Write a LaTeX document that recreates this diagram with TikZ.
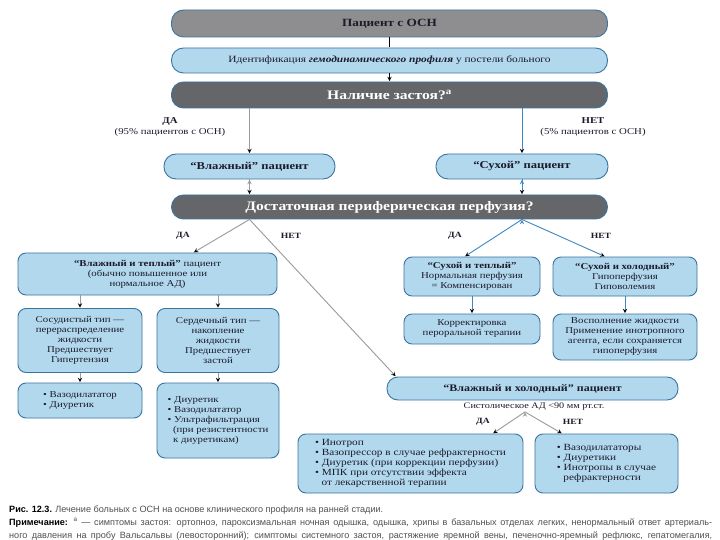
\documentclass[tikz,border=0pt]{standalone}
\usepackage{fontspec}
\setmainfont{Liberation Serif}[FakeStretch=1.2]
\newfontfamily\capfont{Liberation Sans}
\usetikzlibrary{arrows,calc,positioning}
\definecolor{boxline}{HTML}{3A74A0}
\definecolor{boxfill}{HTML}{B2D8EE}
\definecolor{grayfill}{HTML}{8E8E90}
\definecolor{darkfill}{HTML}{656669}
\definecolor{grayarrow}{HTML}{9A9A9A}
\definecolor{bluearrow}{HTML}{3D87C2}
\definecolor{txt}{HTML}{1B1B2A}
\definecolor{captxt}{HTML}{505050}
\tikzset{box/.style={draw=boxline, fill=boxfill, line width=0.9pt, rounded corners=8pt, align=center, inner sep=1pt, text=txt, font=\fontsize{9}{10}\selectfont}}
\tikzstyle{bar}=[box, rounded corners=12pt, minimum width=436pt]
\tikzstyle{pill}=[box, rounded corners=12pt, minimum height=25pt, font=\fontsize{10.5}{12}\selectfont\bfseries]
\tikzstyle{ga}=[->, draw=grayarrow, line width=0.9pt]
\tikzstyle{ba}=[->, draw=bluearrow, line width=0.9pt]
\tikzstyle{yn}=[font=\fontsize{8}{9}\selectfont\bfseries, text=txt]
\tikzstyle{captext}=[anchor=base west, inner sep=0pt, text=captxt, font=\capfont\fontsize{9.1}{13}\selectfont]

\begin{document}
\begin{tikzpicture}[x=1pt, y=-1pt, >=stealth, shorten >=0.5pt]
\useasboundingbox[fill=white] (0,0) rectangle (720,540);
% top column
\node[bar, fill=grayfill, minimum height=27pt, font=\fontsize{11}{13}\selectfont\bfseries] (P0) at (389.5,23.5) {Пациент с ОСН};
\node[bar, minimum height=25pt, font=\fontsize{9.5}{11}\selectfont] (P1) at (389.5,60.5) {Идентификация \textbf{\textit{гемодинамического профиля}} у постели больного};
\node[bar, fill=darkfill, minimum height=26pt, text=white, font=\fontsize{13}{15}\selectfont\bfseries] (P2) at (389.5,95) {Наличие застоя?\textsuperscript{a}};
\node[pill, minimum width=171pt] (W) at (249.5,166.5) {“Влажный” пациент};
\node[pill, minimum width=172pt] (D) at (522,166.5) {“Сухой” пациент};
\node[bar, fill=darkfill, minimum height=24pt, text=white, font=\fontsize{13}{15}\selectfont\bfseries] (P3) at (389.5,207) {Достаточная периферическая перфузия?};
\node[align=center, text=txt, font=\fontsize{9}{10.5}\selectfont] (yes0) at (170,127) {\textbf{ДА}\\(95\% пациентов с ОСН)};
\node[align=center, text=txt, font=\fontsize{9}{10.5}\selectfont] (no0) at (593,127) {\textbf{НЕТ}\\(5\% пациентов с ОСН)};
% wet branch
\node[box, minimum width=259pt, minimum height=42pt] (WW) at (147.5,274) {\textbf{“Влажный и теплый”} пациент\\(обычно повышенное или\\нормальное АД)};
\node[box, minimum width=124pt, minimum height=64pt] (V1) at (80,340.5) {Сосудистый тип —\\перераспределение\\жидкости\\Предшествует\\Гипертензия};
\node[box, minimum width=122pt, minimum height=64pt] (V2) at (218,340.5) {Сердечный тип —\\накопление\\жидкости\\Предшествует\\застой};
\node[box, minimum width=124pt, minimum height=35pt, align=left] (T1) at (80,400.5) {• Вазодилататор\\• Диуретик};
\node[box, minimum width=122pt, minimum height=75pt, align=left] (T2) at (218,420.5) {• Диуретик\\• Вазодилататор\\• Ультрафильтрация\\\hspace*{0.6em}(при резистентности\\\hspace*{0.6em}к диуретикам)};
% dry branch
\node[box, minimum width=136pt, minimum height=39pt] (DW) at (472,276.5) {\textbf{“Сухой и теплый”}\\Нормальная перфузия\\= Компенсирован};
\node[box, minimum width=144pt, minimum height=39pt] (DC) at (625,276.5) {\textbf{“Сухой и холодный”}\\Гипоперфузия\\Гиповолемия};
\node[box, minimum width=136pt, minimum height=30pt] (K1) at (472,329) {Корректировка\\пероральной терапии};
\node[box, minimum width=144pt, minimum height=46pt] (K2) at (625,337) {Восполнение жидкости\\Применение инотропного\\агента, если сохраняется\\гипоперфузия};
% wet and cold
\node[box, minimum width=291pt, minimum height=23pt, rounded corners=11pt, font=\fontsize{10}{12}\selectfont\bfseries] (WC) at (532.5,388.5) {“Влажный и холодный” пациент};
\node[text=txt, inner sep=1pt, font=\fontsize{8.5}{10}\selectfont] (SY) at (534,407) {Систолическое АД <90 мм рт.ст.};
\node[box, minimum width=225pt, minimum height=59pt, align=left, font=\fontsize{9.4}{10}\selectfont] (L1) at (410.5,463.5) {• Инотроп\\• Вазопрессор в случае рефрактерности\\• Диуретик (при коррекции перфузии)\\• МПК при отсутствии эффекта\\\hspace*{0.7em}от лекарственной терапии};
\node[box, minimum width=143pt, minimum height=59pt, align=left, font=\fontsize{9.4}{10}\selectfont] (L2) at (606.5,463.5) {• Вазодилататоры\\• Диуретики\\• Инотропы в случае\\\hspace*{0.7em}рефрактерности};
\node[yn] (yes1) at (183,236) {ДА};
\node[yn] (no1) at (291,236) {НЕТ};
\node[yn] (yes2) at (455,236) {ДА};
\node[yn] (no2) at (601,236) {НЕТ};
\node[yn] (yes3) at (483,422) {ДА};
\node[yn] (no3) at (573,422) {НЕТ};
% connectors
\draw[line width=0.9pt] (P0) -- (P1);
\path[->, draw, line width=0.9pt] (P1) edge (P2);
\path[ga] (P2.south -| W.north) edge (W.north)
          (W.south) edge (W.south |- P3.north);
\path[ba] (P2.south -| D.north) edge (D.north)
          (D.south) edge (D.south |- P3.north);
\coordinate (s1) at (P3.south -| W);
\coordinate (s2) at (P3.south -| D);
\coordinate (s3) at ([xshift=-9pt]SY.south);
\path[ga] (s1) edge (WW.25) edge (WC.175)
          (V1.north |- WW.south) edge (V1.north)
          (V2.north |- WW.south) edge (V2.north)
          (V1) edge (T1)
          (V2.south) edge (V2.south |- T2.north)
          (s3) edge (L1.20) edge (L2.146);
\path[ba] (s2) edge (DW.110) edge (DC.135)
          (DW) edge (K1)
          (DC) edge (K2);
% caption
\node[captext] (C1) at (9,512) {\textcolor{black}{\textbf{Рис. 12.3.}} Лечение больных с ОСН на основе клинического профиля на ранней стадии.};
\node[captext] (C2) at (9,525) {\makebox[703pt][s]{\textcolor{black}{\textbf{Примечание:}} \textsuperscript{a} — симптомы застоя: ортопноэ, пароксизмальная ночная одышка, одышка, хрипы в базальных отделах легких, ненормальный ответ артериаль-}};
\node[captext] (C3) at (9,538) {\makebox[703pt][s]{ного давления на пробу Вальсальвы (левосторонний); симптомы системного застоя, растяжение яремной вены, печеночно-яремный рефлюкс, гепатомегалия,}};
\end{tikzpicture}
\end{document}
